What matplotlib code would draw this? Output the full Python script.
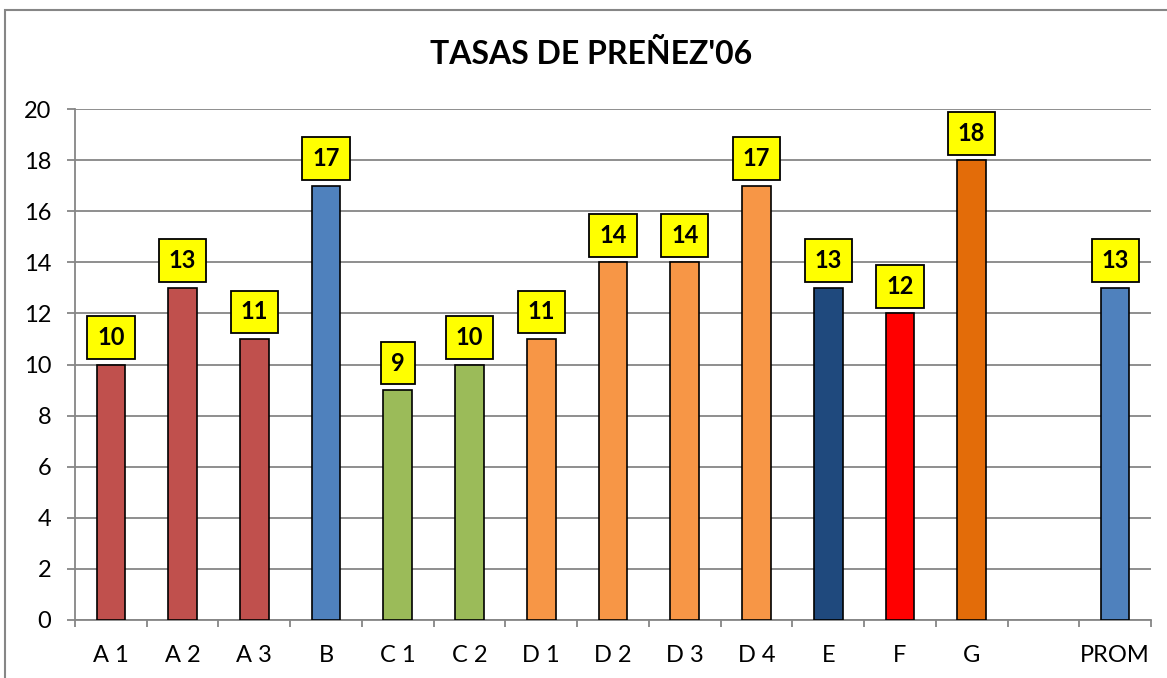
import matplotlib.pyplot as plt
from matplotlib.patches import Rectangle

categorias = ['A 1', 'A 2', 'A 3', 'B', 'C 1', 'C 2', 'D 1', 'D 2', 'D 3', 'D 4', 'E', 'F', 'G', '', 'PROM']
tasas = [10, 13, 11, 17, 9, 10, 11, 14, 14, 17, 13, 12, 18, None, 13]
colores = ['#C0504D', '#C0504D', '#C0504D', '#4F81BD', '#9BBB59', '#9BBB59',
           '#F79646', '#F79646', '#F79646', '#F79646', '#1F497D', '#FF0000',
           '#E36C09', '#FFFFFF', '#4F81BD']
yticks = [0, 2, 4, 6, 8, 10, 12, 14, 16, 18, 20]

plt.rcParams['font.family'] = ['Lato', 'DejaVu Sans']
gris = '#868686'

fig = plt.figure(figsize=(11.67, 6.78), dpi=100)
ax = fig.add_axes([75/1167, 1 - 620/678, (1151 - 75)/1167, (620 - 109)/678])

for i in range(len(categorias)):
    v = tasas[i]
    if v is None:
        continue
    ax.bar(i, v, width=0.40, color=colores[i], edgecolor='black', linewidth=1.2, zorder=3)
    ax.annotate(str(v), xy=(i, v), xytext=(0, 27), textcoords='offset pixels',
                ha='center', va='center', fontsize=17, fontweight='bold', zorder=5,
                bbox=dict(boxstyle='square,pad=0.42', fc='#FFFF00', ec='black', lw=1.3))

ax.set_xlim(-0.5, len(categorias) - 0.5)
ax.set_ylim(0, 20)
ax.set_yticks(yticks)
ax.set_xticks(range(len(categorias)))
ax.set_xticklabels(categorias)
ax.set_xticks([i - 0.5 for i in range(len(categorias) + 1)], minor=True)

ax.grid(axis='y', color=gris, linewidth=1.3, zorder=0)
for s in ['top', 'right']:
    ax.spines[s].set_visible(False)
for s in ['left', 'bottom']:
    ax.spines[s].set_color(gris)
    ax.spines[s].set_linewidth(1.3)

ax.tick_params(axis='y', length=6, width=1.3, color=gris, pad=11, labelsize=17)
ax.tick_params(axis='x', which='major', length=0, pad=18, labelsize=17)
ax.tick_params(axis='x', which='minor', length=5, width=1.3, color=gris)

fig.text(591/1167, 1 - 54/678, "TASAS DE PREÑEZ'06", ha='center', va='center',
         fontsize=23, fontweight='bold')

fig.add_artist(Rectangle((5/1167, -0.1), 1.2, 1 - 10/678 + 0.1, transform=fig.transFigure,
                         fill=False, edgecolor=gris, linewidth=1.5))

fig.savefig('out.png', dpi=100)
